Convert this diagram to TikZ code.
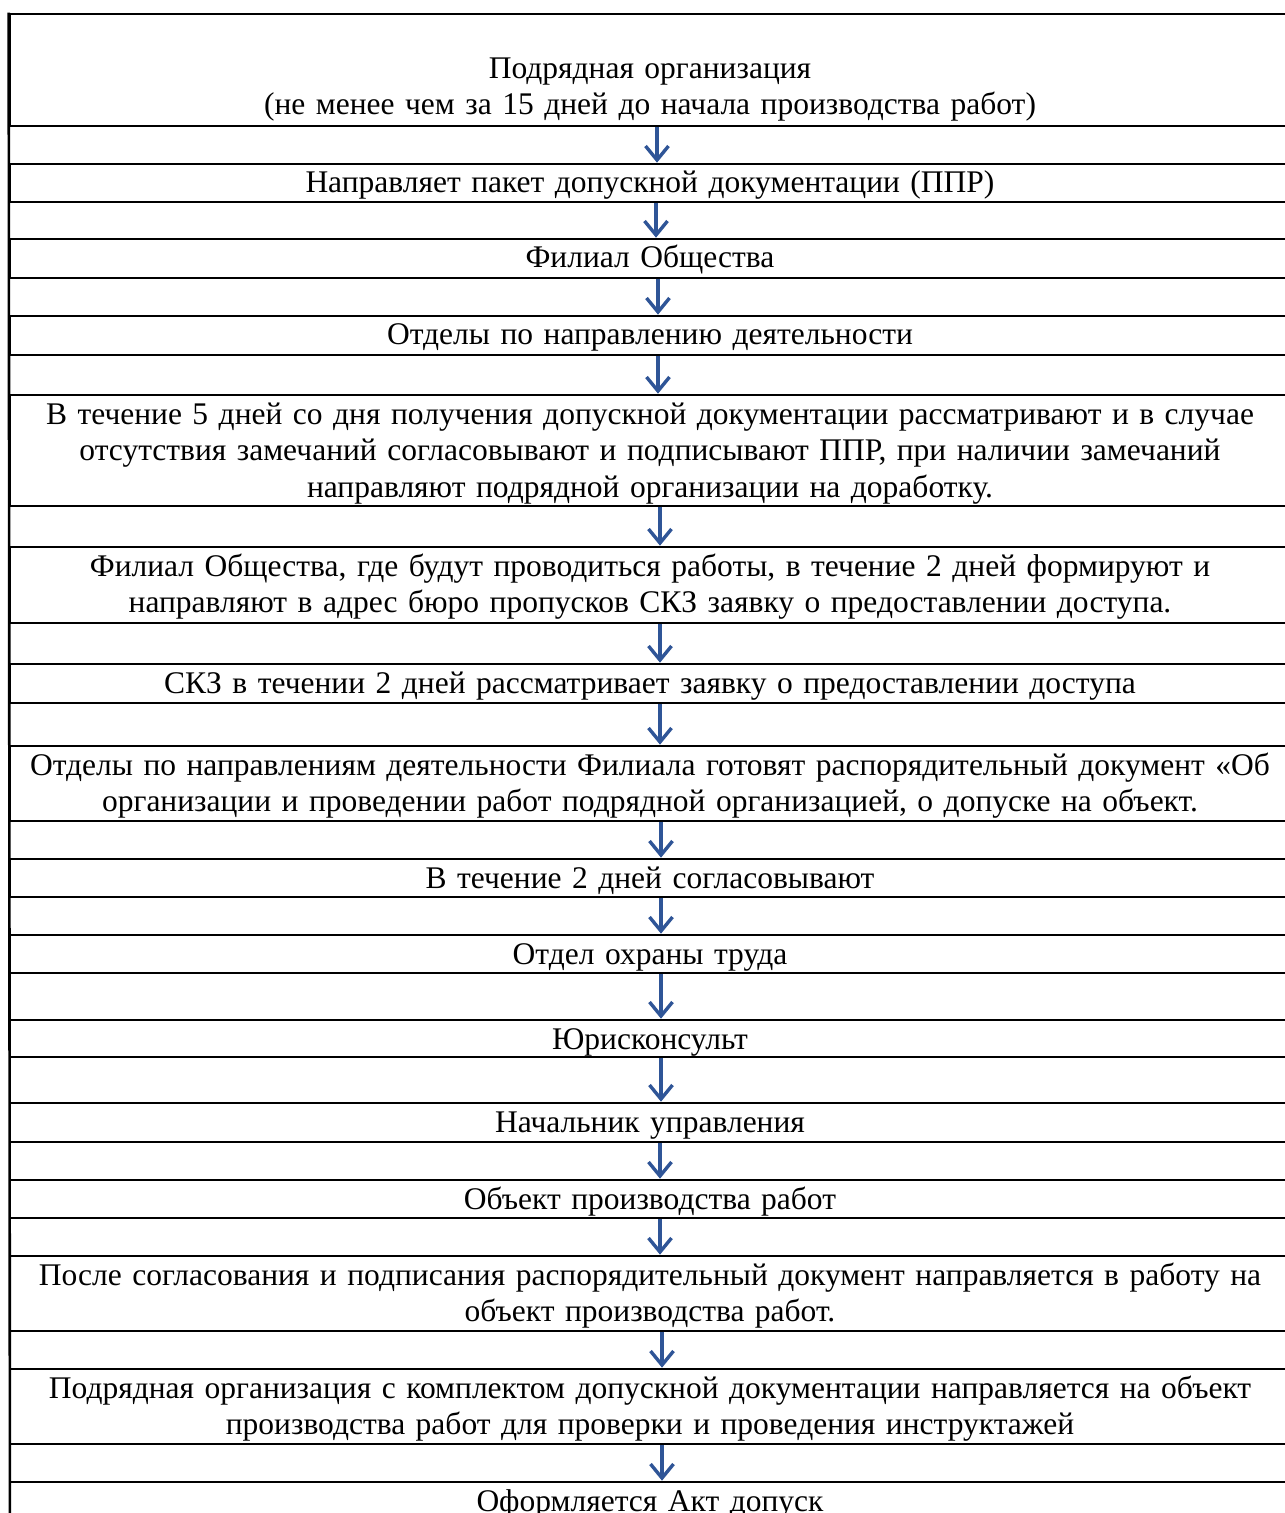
\documentclass[tikz,border=0pt]{standalone}
\usepackage{fontspec}
\setmainfont{Liberation Serif}
\usetikzlibrary{arrows.meta}
\definecolor{arrowblue}{RGB}{47,85,151}
\begin{document}
\begin{tikzpicture}[x=0.5pt,y=-0.5pt,
  cell/.style={draw, line width=1.3pt, minimum width=640pt, inner xsep=0pt, inner ysep=0pt,
    text width=640pt, align=center, font=\fontsize{15.75pt}{18.35pt}\selectfont, text height=14.5pt},
  arr/.style={draw=arrowblue, line width=1.7pt, -{Straight Barb[length=7pt,width=11.5pt]}}]
\useasboundingbox (0,0) rectangle (1284,1513);
\node[cell, minimum height=56pt, text height=32.15pt, text depth=23.85pt] (c1) at (650,70)
  {Подрядная организация\\(не менее чем за 15 дней до начала производства работ)};
\node[cell, minimum height=19pt, text depth=4.5pt] (c2) at (650,183)
  {Направляет пакет допускной документации (ППР)};
\node[cell, minimum height=19.5pt, text depth=5pt] (c3) at (650,258.5)
  {Филиал Общества};
\node[cell, minimum height=19.5pt, text depth=5pt] (c4) at (650,335.5)
  {Отделы по направлению деятельности};
\node[cell, minimum height=55.5pt, text depth=41pt] (c5) at (650,450.5)
  {В течение 5 дней со дня получения допускной документации рассматривают и в случае\\отсутствия замечаний согласовывают и подписывают ППР, при наличии замечаний\\направляют подрядной организации на доработку.};
\node[cell, minimum height=38pt, text depth=23.5pt] (c6) at (650,585)
  {Филиал Общества, где будут проводиться работы, в течение 2 дней формируют и\\направляют в адрес бюро пропусков СКЗ заявку о предоставлении доступа.};
\node[cell, minimum height=19.5pt, text depth=5pt] (c7) at (650,683.5)
  {СКЗ в течении 2 дней рассматривает заявку о предоставлении доступа};
\node[cell, minimum height=37.5pt, text depth=23pt] (c8) at (650,783.5)
  {Отделы по направлениям деятельности Филиала готовят распорядительный документ «Об\\организации и проведении работ подрядной организацией, о допуске на объект.};
\node[cell, minimum height=19pt, text depth=4.5pt] (c9) at (650,878)
  {В течение 2 дней согласовывают};
\node[cell, minimum height=19pt, text depth=4.5pt] (c10) at (650,954)
  {Отдел охраны труда};
\node[cell, minimum height=18.5pt, text depth=4pt] (c11) at (650,1038.5)
  {Юрисконсульт};
\node[cell, minimum height=19.5pt, text depth=5pt] (c12) at (650,1122.5)
  {Начальник управления};
\node[cell, minimum height=19pt, text depth=4.5pt] (c13) at (650,1199)
  {Объект производства работ};
\node[cell, minimum height=37.5pt, text depth=23pt] (c14) at (650,1293.5)
  {После согласования и подписания распорядительный документ направляется в работу на\\объект производства работ.};
\node[cell, minimum height=37.5pt, text depth=23pt] (c15) at (650,1406.5)
  {Подрядная организация с комплектом допускной документации направляется на объект\\производства работ для проверки и проведения инструктажей};
\node[cell, minimum height=40pt, text depth=25.5pt] (c16) at (650,1522)
  {Оформляется Акт допуск};
\coordinate (lb) at (10,1600);
\draw[line width=1.3pt] (c1.north west) -- (lb);
\draw[arr] ([xshift=3.5pt]c1.south) -- ([xshift=3.5pt]c2.north);
\draw[arr] ([xshift=3pt]c2.south) -- ([xshift=3pt]c3.north);
\draw[arr] ([xshift=4pt]c3.south) -- ([xshift=4pt]c4.north);
\draw[arr] ([xshift=4pt]c4.south) -- ([xshift=4pt]c5.north);
\draw[arr] ([xshift=5pt]c5.south) -- ([xshift=5pt]c6.north);
\draw[arr] ([xshift=5pt]c6.south) -- ([xshift=5pt]c7.north);
\draw[arr] ([xshift=5pt]c7.south) -- ([xshift=5pt]c8.north);
\draw[arr] ([xshift=5.5pt]c8.south) -- ([xshift=5.5pt]c9.north);
\draw[arr] ([xshift=5.5pt]c9.south) -- ([xshift=5.5pt]c10.north);
\draw[arr] ([xshift=5.5pt]c10.south) -- ([xshift=5.5pt]c11.north);
\draw[arr] ([xshift=5.5pt]c11.south) -- ([xshift=5.5pt]c12.north);
\draw[arr] ([xshift=5pt]c12.south) -- ([xshift=5pt]c13.north);
\draw[arr] ([xshift=5pt]c13.south) -- ([xshift=5pt]c14.north);
\draw[arr] ([xshift=6pt]c14.south) -- ([xshift=6pt]c15.north);
\draw[arr] ([xshift=6pt]c15.south) -- ([xshift=6pt]c16.north);
\end{tikzpicture}
\end{document}
